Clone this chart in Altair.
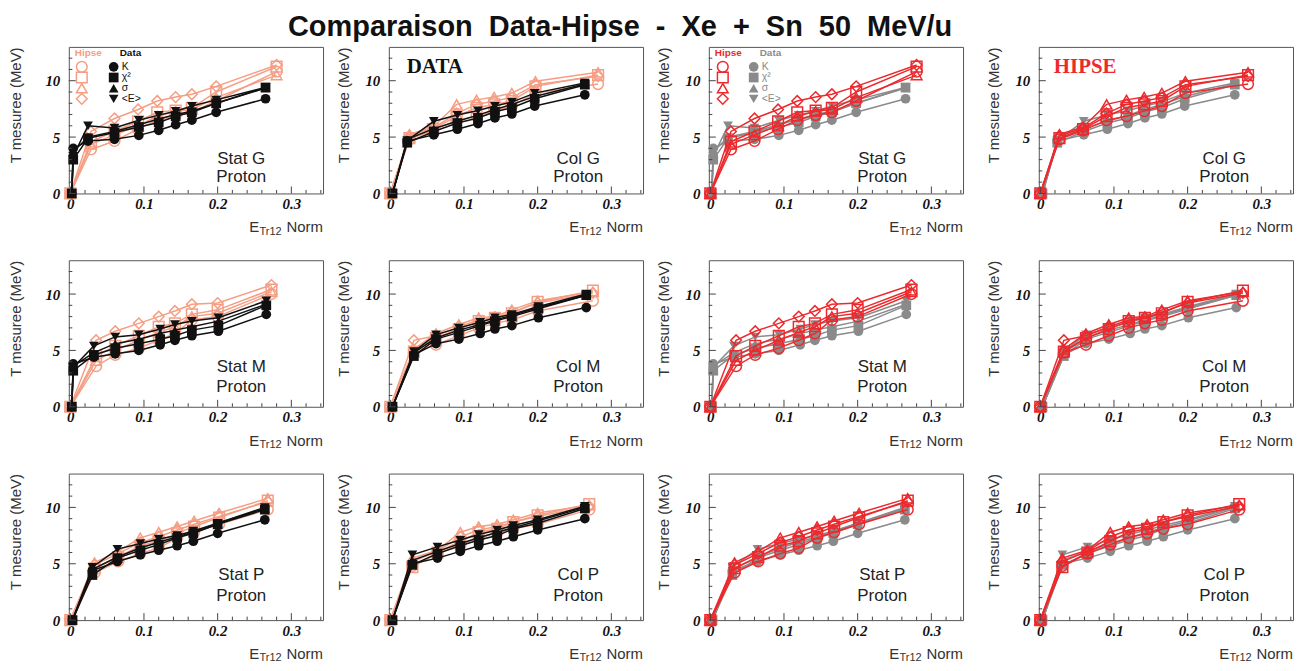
import altair as alt
import pandas as pd

TITLE = "Comparaison  Data-Hipse  -  Xe  +  Sn  50  MeV/u"
SERIES = ["K", "χ²", "σ", "<E>"]
DATA_SHAPES = ["circle", "square", "triangle-up", "triangle-down"]
HIPSE_SHAPES = ["circle", "square", "triangle-up", "diamond"]

X_TICKS = [0, 0.1, 0.2, 0.3]
X_MINOR = [0.02, 0.04, 0.06, 0.08, 0.12, 0.14, 0.16, 0.18, 0.22, 0.24, 0.26, 0.28, 0.32, 0.34]
Y_TICKS = [0, 5, 10]
Y_MINOR = [1, 2, 3, 4, 6, 7, 8, 9, 11, 12]

# ---------- Stat G ----------
STAT_G_DATA_X = [0.002, 0.004, 0.024, 0.06, 0.093, 0.12, 0.143, 0.165, 0.198, 0.265]
STAT_G_DATA = {
    "K":   [0, 4.0, 4.65, 4.8, 5.15, 5.6, 6.1, 6.5, 7.2, 8.4],
    "χ²":  [0, 3.0, 4.9, 5.4, 5.9, 6.3, 6.85, 7.2, 8.0, 9.4],
    "σ":   [0, 3.7, 5.0, 5.5, 6.1, 6.6, 7.0, 7.3, 8.0, 9.35],
    "<E>": [0, 3.3, 6.0, 5.8, 6.5, 6.95, 7.3, 7.75, 8.3, 9.4],
}
STAT_G_HIPSE_X = [0.0, 0.028, 0.06, 0.092, 0.118, 0.143, 0.165, 0.198, 0.28]
STAT_G_HIPSE = {
    "K":   [0, 3.9, 4.65, 5.7, 6.5, 6.95, 7.2, 8.2, 10.8],
    "χ²":  [0, 4.6, 5.5, 6.4, 7.2, 7.35, 7.6, 9.0, 11.25],
    "σ":   [0, 4.35, 5.2, 6.0, 6.85, 7.3, 7.45, 8.5, 10.5],
    "<E>": [0, 5.5, 6.65, 7.45, 8.2, 8.55, 8.8, 9.5, 11.4],
}
# ---------- Col G ----------
COL_G_DATA_X = [0.003, 0.023, 0.059, 0.091, 0.119, 0.142, 0.165, 0.196, 0.264]
COL_G_DATA = {
    "K":   [0, 4.65, 5.2, 5.7, 6.2, 6.7, 7.05, 7.75, 8.75],
    "χ²":  [0, 4.5, 5.5, 6.25, 6.7, 7.25, 7.6, 8.4, 9.65],
    "σ":   [0, 4.8, 5.75, 6.4, 6.95, 7.45, 7.9, 8.6, 9.7],
    "<E>": [0, 4.7, 6.4, 6.95, 7.35, 7.75, 8.1, 8.9, 9.8],
}
COL_G_HIPSE_X = [0.0, 0.026, 0.058, 0.09, 0.117, 0.141, 0.165, 0.197, 0.282]
COL_G_HIPSE = {
    "K":   [0, 4.8, 5.6, 6.5, 6.85, 7.3, 7.75, 8.9, 9.7],
    "χ²":  [0, 4.9, 5.7, 6.85, 7.6, 7.9, 8.2, 9.5, 10.5],
    "σ":   [0, 5.25, 5.9, 7.9, 8.3, 8.55, 8.9, 9.95, 10.75],
    "<E>": [0, 5.1, 5.8, 7.1, 7.9, 8.2, 8.5, 9.65, 10.4],
}
# ---------- Stat M ----------
STAT_M_DATA_X = [0.002, 0.004, 0.032, 0.061, 0.093, 0.122, 0.142, 0.165, 0.201, 0.266]
STAT_M_DATA = {
    "K":   [0, 3.8, 4.4, 4.7, 5.0, 5.5, 5.9, 6.3, 6.7, 8.2],
    "χ²":  [0, 3.2, 4.6, 5.2, 5.6, 6.0, 6.3, 6.8, 7.2, 9.0],
    "σ":   [0, 3.6, 4.8, 5.6, 6.0, 6.5, 6.8, 7.1, 7.6, 9.1],
    "<E>": [0, 3.5, 5.4, 6.2, 6.4, 6.9, 7.3, 7.6, 7.9, 9.4],
}
STAT_M_HIPSE_X = [0.0, 0.035, 0.061, 0.093, 0.12, 0.142, 0.165, 0.2, 0.273]
STAT_M_HIPSE = {
    "K":   [0, 3.6, 4.6, 5.2, 5.9, 6.5, 7.7, 8.0, 10.0],
    "χ²":  [0, 4.5, 5.4, 6.3, 7.1, 7.4, 8.2, 8.6, 10.4],
    "σ":   [0, 4.1, 5.0, 5.9, 6.6, 7.1, 8.0, 8.3, 10.2],
    "<E>": [0, 5.9, 6.7, 7.4, 8.0, 8.5, 9.1, 9.2, 10.8],
}
# ---------- Col M ----------
COL_M_DATA_X = [0.003, 0.032, 0.062, 0.093, 0.122, 0.142, 0.165, 0.201, 0.266]
COL_M_DATA = {
    "K":   [0, 4.6, 5.6, 6.0, 6.5, 6.9, 7.2, 7.9, 8.8],
    "χ²":  [0, 4.5, 6.0, 6.6, 7.2, 7.6, 8.0, 8.7, 9.9],
    "σ":   [0, 4.8, 6.1, 6.8, 7.3, 7.7, 8.1, 8.8, 9.9],
    "<E>": [0, 4.9, 6.4, 7.0, 7.5, 7.9, 8.2, 8.9, 10.0],
}
COL_M_HIPSE_X = [0.0, 0.032, 0.062, 0.093, 0.12, 0.142, 0.165, 0.2, 0.275]
COL_M_HIPSE = {
    "K":   [0, 4.8, 5.5, 6.3, 7.0, 7.4, 7.7, 8.5, 9.4],
    "χ²":  [0, 4.9, 6.1, 6.9, 7.6, 7.9, 8.3, 9.3, 10.3],
    "σ":   [0, 5.1, 6.5, 7.3, 7.9, 8.0, 8.6, 9.4, 10.2],
    "<E>": [0, 5.9, 6.3, 7.1, 7.7, 7.9, 8.4, 9.2, 10.1],
}
# ---------- Stat P ----------
STAT_P_DATA_X = [0.003, 0.03, 0.064, 0.095, 0.12, 0.145, 0.167, 0.2, 0.264]
STAT_P_DATA = {
    "K":   [0, 4.4, 5.2, 5.8, 6.2, 6.6, 7.0, 7.7, 8.9],
    "χ²":  [0, 4.0, 5.5, 6.2, 6.7, 7.3, 7.7, 8.5, 9.8],
    "σ":   [0, 4.5, 5.6, 6.4, 6.9, 7.4, 7.8, 8.6, 9.9],
    "<E>": [0, 4.7, 6.3, 6.8, 7.2, 7.5, 7.9, 8.6, 10.0],
}
STAT_P_HIPSE_X = [0.0, 0.033, 0.065, 0.095, 0.12, 0.145, 0.168, 0.202, 0.268]
STAT_P_HIPSE = {
    "K":   [0, 4.2, 5.2, 5.9, 6.4, 7.3, 7.8, 8.5, 9.8],
    "χ²":  [0, 4.6, 5.6, 6.6, 7.0, 7.7, 8.3, 9.1, 10.6],
    "σ":   [0, 5.1, 6.1, 7.3, 7.8, 8.3, 8.8, 9.5, 10.8],
    "<E>": [0, 4.9, 5.9, 6.9, 7.4, 8.0, 8.5, 9.2, 10.5],
}
# ---------- Col P ----------
COL_P_DATA_X = [0.003, 0.03, 0.064, 0.095, 0.12, 0.145, 0.167, 0.2, 0.264]
COL_P_DATA = {
    "K":   [0, 5.0, 5.5, 6.1, 6.6, 7.0, 7.4, 8.0, 9.0],
    "χ²":  [0, 4.9, 5.9, 6.6, 7.1, 7.5, 8.1, 8.6, 9.9],
    "σ":   [0, 5.3, 6.1, 6.8, 7.3, 7.8, 8.2, 8.8, 10.0],
    "<E>": [0, 5.8, 6.5, 7.1, 7.6, 8.0, 8.4, 8.9, 10.1],
}
COL_P_HIPSE_X = [0.0, 0.03, 0.064, 0.095, 0.12, 0.145, 0.167, 0.2, 0.27]
COL_P_HIPSE = {
    "K":   [0, 4.8, 5.9, 6.7, 7.3, 7.7, 8.1, 8.5, 9.8],
    "χ²":  [0, 4.7, 6.0, 7.0, 7.8, 8.1, 8.7, 9.3, 10.3],
    "σ":   [0, 5.5, 6.2, 7.8, 8.3, 8.5, 8.9, 9.5, 10.2],
    "<E>": [0, 5.2, 6.1, 7.4, 8.0, 8.3, 8.7, 9.2, 10.1],
}

PANELS = {
    ("Stat", "G"): (STAT_G_DATA_X, STAT_G_DATA, STAT_G_HIPSE_X, STAT_G_HIPSE),
    ("Col", "G"): (COL_G_DATA_X, COL_G_DATA, COL_G_HIPSE_X, COL_G_HIPSE),
    ("Stat", "M"): (STAT_M_DATA_X, STAT_M_DATA, STAT_M_HIPSE_X, STAT_M_HIPSE),
    ("Col", "M"): (COL_M_DATA_X, COL_M_DATA, COL_M_HIPSE_X, COL_M_HIPSE),
    ("Stat", "P"): (STAT_P_DATA_X, STAT_P_DATA, STAT_P_HIPSE_X, STAT_P_HIPSE),
    ("Col", "P"): (COL_P_DATA_X, COL_P_DATA, COL_P_HIPSE_X, COL_P_HIPSE),
}

SALMON = "#F59E84"
RED = "#EC2A2E"
BLACK = "#111111"
GRAY = "#8A8A8A"
TICK = "#444444"
SANS = "Liberation Sans"
SERIF = "Liberation Serif"

W, H = 255, 147
XDOM = [-0.002, 0.343]
YDOM = [0, 13]

LABEL_X = [173, 190, 174, 186]
LABEL_Y = {"G": (112, 131), "M": (107, 127), "P": (102, 123)}
TITLE_PAD = [21, 13, 13, 13]


def long_df(xs, ydict, shapes):
    rows = []
    for name, shp in zip(SERIES, shapes):
        for x, y in zip(xs, ydict[name]):
            rows.append({"x": x, "y": y, "series": name, "shp": shp})
    return pd.DataFrame(rows)


def text_layer(txt, x, y, **kw):
    return alt.Chart(pd.DataFrame({"t": [txt]})).mark_text(**kw).encode(
        text="t:N", x=alt.value(x), y=alt.value(y))


def panel(kind, row, col):
    dx, dd, hx, hd = PANELS[(kind, row)]
    red_scheme = col >= 2
    hcol = RED if red_scheme else SALMON
    dcol = GRAY if red_scheme else BLACK

    xscale = alt.Scale(domain=XDOM, nice=False, zero=False)
    yscale = alt.Scale(domain=YDOM, nice=False, zero=False)
    xaxis = alt.Axis(values=X_TICKS, labelExpr="datum.value == 0 ? '0' : format(datum.value, '.1f')",
                     ticks=False, tickSize=0, domain=False, grid=False,
                     title=None, labelFont=SERIF, labelFontStyle="italic", labelFontWeight="bold",
                     labelFontSize=15, labelColor=BLACK, labelPadding=3, labelFlush=False,
                     labelOverlap=False)
    yaxis = alt.Axis(values=Y_TICKS, format="d", ticks=False, tickSize=0, domain=False, grid=False,
                     title="T mesuree (MeV)", titleFont=SANS, titleFontSize=15,
                     titleFontWeight="normal", titleColor="#333333", titleAnchor="end",
                     titlePadding=TITLE_PAD[col],
                     labelFont=SERIF, labelFontStyle="italic", labelFontWeight="bold",
                     labelFontSize=15, labelColor=BLACK, labelPadding=9)
    X = alt.X("x:Q", scale=xscale, axis=xaxis)
    Y = alt.Y("y:Q", scale=yscale, axis=yaxis)

    ddf = long_df(dx, dd, DATA_SHAPES)
    hdf = long_df(hx, hd, HIPSE_SHAPES)

    d_line = alt.Chart(ddf).mark_line(color=dcol, strokeWidth=1.5).encode(x=X, y=Y, detail="series:N")
    d_pts = alt.Chart(ddf).mark_point(filled=True, color=dcol, size=95, opacity=1).encode(
        x=X, y=Y, shape=alt.Shape("shp:N", scale=None))
    h_line = alt.Chart(hdf).mark_line(color=hcol, strokeWidth=1.5).encode(x=X, y=Y, detail="series:N")
    h_pts = alt.Chart(hdf).mark_point(filled=False, color=hcol, strokeWidth=1.5, size=115, opacity=1).encode(
        x=X, y=Y, shape=alt.Shape("shp:N", scale=None))

    ticks = [
        alt.Chart(pd.DataFrame({"y": Y_TICKS})).mark_rule(color=TICK, strokeWidth=1).encode(
            y=Y, x=alt.value(0), x2=alt.value(7)),
        alt.Chart(pd.DataFrame({"y": Y_MINOR})).mark_rule(color=TICK, strokeWidth=1).encode(
            y=Y, x=alt.value(0), x2=alt.value(3.5)),
        alt.Chart(pd.DataFrame({"x": X_TICKS})).mark_rule(color=TICK, strokeWidth=1).encode(
            x=X, y=alt.value(H), y2=alt.value(H - 7)),
        alt.Chart(pd.DataFrame({"x": X_MINOR})).mark_rule(color=TICK, strokeWidth=1).encode(
            x=X, y=alt.value(H), y2=alt.value(H - 3.5)),
    ]

    if red_scheme:
        series_layers = [d_line, d_pts, h_line, h_pts]
    else:
        series_layers = [h_line, h_pts, d_line, d_pts]

    ly1, ly2 = LABEL_Y[row]
    texts = [
        text_layer(f"{kind} {row}", LABEL_X[col], ly1, font=SANS, fontSize=17, color="#222222",
                   align="center", baseline="middle"),
        text_layer("Proton", LABEL_X[col], ly2, font=SANS, fontSize=17, color="#222222",
                   align="center", baseline="middle"),
        text_layer("Norm", W, H + 34, font=SANS, fontSize=15, color="#333333", align="right",
                   baseline="middle"),
        text_layer("Tr12", W - 41.5, H + 38.5, font=SANS, fontSize=11, color="#333333", align="right",
                   baseline="middle"),
        text_layer("E", W - 64, H + 34, font=SANS, fontSize=15, color="#333333", align="right",
                   baseline="middle"),
    ]

    extra = []
    if row == "G" and kind == "Stat":
        hx0 = 13 if col == 0 else 14
        extra.append(text_layer("Hipse", 6, 6, font=SANS, fontSize=10, fontWeight="bold", color=hcol,
                                align="left", baseline="middle"))
        extra.append(text_layer("Data", 51, 6, font=SANS, fontSize=10, fontWeight="bold", color=dcol,
                                align="left", baseline="middle"))
        for i, (name, hs, ds) in enumerate(zip(SERIES, HIPSE_SHAPES, DATA_SHAPES)):
            yy = 20 + i * 10.7
            extra.append(alt.Chart(pd.DataFrame({"s": [hs]})).mark_point(
                filled=False, color=hcol, strokeWidth=1.5, size=115, opacity=1).encode(
                x=alt.value(hx0), y=alt.value(yy), shape=alt.Shape("s:N", scale=None)))
            extra.append(alt.Chart(pd.DataFrame({"s": [ds]})).mark_point(
                filled=True, color=dcol, size=95, opacity=1).encode(
                x=alt.value(45), y=alt.value(yy), shape=alt.Shape("s:N", scale=None)))
            extra.append(text_layer(name, 53, yy, font=SANS, fontSize=10.5, color=dcol,
                                    align="left", baseline="middle"))
    if row == "G" and col == 1:
        extra.append(text_layer("DATA", 18, 20, font=SERIF, fontSize=21, fontWeight="bold",
                                color=BLACK, align="left", baseline="middle"))
    if row == "G" and col == 3:
        extra.append(text_layer("HIPSE", 15, 20, font=SERIF, fontSize=21, fontWeight="bold",
                                color=RED, align="left", baseline="middle"))

    return alt.layer(*series_layers, *ticks, *texts, *extra).properties(width=W, height=H)


ROW_SPACING = 22
columns = []
for col in range(4):
    kind = "Stat" if col % 2 == 0 else "Col"
    columns.append(alt.vconcat(*[panel(kind, r, col) for r in ["G", "M", "P"]], spacing=ROW_SPACING))

left3 = alt.hconcat(columns[0], columns[1], columns[2], spacing=12)
chart = alt.hconcat(left3, columns[3], spacing=22).properties(
    title=alt.TitleParams(TITLE.replace(" ", "\u00a0"), font=SANS, fontSize=29, fontWeight="bold",
                          color=BLACK, anchor="middle", offset=4, dx=-31),
    padding={"left": 0, "top": 4, "right": 0, "bottom": 0},
).configure_view(stroke="#555555", strokeWidth=1)

chart.save("out.html", embed_options={"renderer": "svg", "actions": False})
